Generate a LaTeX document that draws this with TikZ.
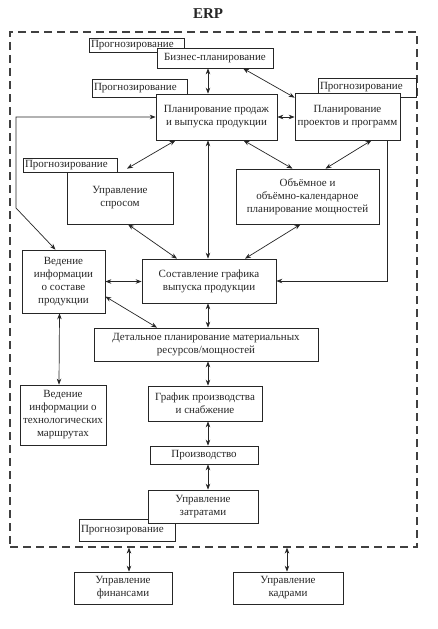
\documentclass[tikz,border=0pt]{standalone}
\usepackage{fontspec}
\setmainfont{Liberation Serif}
\usetikzlibrary{arrows.meta}
\begin{document}
\begin{tikzpicture}[x=1pt,y=-1pt,
  txt/.style={font=\fontsize{11}{13}\selectfont, text=black!85},
  box/.style={txt, draw=black!85, fill=white, align=center, inner sep=1pt, line width=0.7pt},
  pbox/.style={txt, draw=black!85, fill=white, align=left, inner xsep=2pt, inner ysep=0pt, text width=#1, line width=0.7pt},
  pbox/.default=91pt,
  dbl/.style={{Stealth[length=6pt,width=4.5pt]}-{Stealth[length=6pt,width=4.5pt]}, line width=0.7pt, draw=black!85},
  one/.style={-{Stealth[length=6pt,width=4.5pt]}, line width=0.7pt, draw=black!85},
  frame/.style={draw=black!75, dash pattern=on 8pt off 5pt, line width=1.2pt, inner sep=0pt}]
\useasboundingbox (0,0) rectangle (438,629);
\fill[white] (0,0) rectangle (438,629);

\node[font=\fontsize{15}{18}\selectfont\bfseries, text=black!85] (title) at (208,14) {ERP};
\node[frame, minimum width=407pt, minimum height=515pt] (erp) at (213.5,289.5) {};
\coordinate (cx) at (208,0);

% forecasting tabs (drawn first)
\node[pbox, minimum height=14pt] (p1) at (136.5,45) {Прогнозирование};
\node[pbox, minimum height=18pt] (p2) at (139.5,88) {Прогнозирование};
\node[pbox=94pt, minimum height=19pt] (p3) at (367,87.5) {Прогнозирование};
\node[pbox=90pt, minimum height=14pt] (p4) at (70,165) {Прогнозирование};
\node[pbox=92pt, minimum height=22pt] (p5) at (127,530) {Прогнозирование};

% main boxes
\node[box, minimum width=116pt, minimum height=20pt] (biz) at (215,58) {Бизнес-планирование};
\node[box, minimum width=121pt, minimum height=46pt] (sales) at (216.5,117) {Планирование продаж\\и выпуска продукции};
\node[box, minimum width=105pt, minimum height=47pt] (proj) at (347.5,116.5) {Планирование\\проектов и программ};
\node[box, minimum width=106pt, minimum height=52pt] (dem) at (120,198) {Управление\\спросом};
\node[box, minimum width=143pt, minimum height=55pt] (vol) at (307.5,196.5) {Объёмное и\\объёмно-календарное\\планирование мощностей};
\node[box, minimum width=83pt, minimum height=63pt] (bom) at (63.5,281.5) {Ведение\\информации\\о составе\\продукции};
\node[box, minimum width=134pt, minimum height=44pt] (sched) at (209,281) {Составление графика\\выпуска продукции};
\node[box, minimum width=224pt, minimum height=33pt] (mrp) at (206,344.5) {Детальное планирование материальных\\ресурсов/мощностей};
\node[box, minimum width=86pt, minimum height=60pt] (route) at (63,415) {Ведение\\информации о\\технологических\\маршрутах};
\node[box, minimum width=114pt, minimum height=35pt] (ps) at (205,403.5) {График производства\\и снабжение};
\node[box, minimum width=108pt, minimum height=18pt] (prod) at (204,455) {Производство};
\node[box, minimum width=110pt, minimum height=33pt] (cost) at (203,506.5) {Управление\\затратами};
\node[box, minimum width=98pt, minimum height=32pt] (fin) at (123,588) {Управление\\финансами};
\node[box, minimum width=110pt, minimum height=32pt] (hr) at (288,588) {Управление\\кадрами};

% connectors
\draw[dbl] (biz.south -| cx) -- (sales.north -| cx);
\draw[dbl] ([xshift=28pt]biz.south) -- ([yshift=-5pt]proj.north west);
\draw[dbl] (sales.east) -- (sales.east -| proj.west);
\coordinate (lb) at (16,208);
\coordinate (lt) at (16,117);
\draw[dbl] ([xshift=-8pt]bom.north) -- (lb) -- (lt) -- (sales.west);
\draw[dbl] ([xshift=-41pt]sales.south) -- ([xshift=7pt,yshift=3pt]dem.north);
\draw[dbl] (sales.south -| cx) -- (sched.north -| cx);
\draw[dbl] ([xshift=27pt]sales.south) -- ([xshift=-15pt]vol.north);
\draw[dbl] ([xshift=24pt]proj.south) -- ([xshift=18pt]vol.north);
\draw[one] ([xshift=40pt]proj.south) |- (sched.east);
\draw[dbl] ([xshift=8pt]dem.south) -- ([xshift=-32pt]sched.north);
\draw[dbl] ([xshift=-7pt]vol.south) -- ([xshift=36pt]sched.north);
\draw[dbl] (bom.east) -- (bom.east -| sched.west);
\draw[dbl] ([yshift=-15pt]bom.east) -- ([xshift=-49pt]mrp.north);
\draw[dbl] (sched.south -| cx) -- (mrp.north -| cx);
\draw[dbl] ([xshift=-4pt]bom.south) -- ([xshift=-4pt]route.north);
\draw[dbl] (mrp.south -| cx) -- (ps.north -| cx);
\draw[dbl] (ps.south -| cx) -- (prod.north -| cx);
\draw[dbl] (prod.south -| cx) -- (cost.north -| cx);
\draw[dbl] ([xshift=6pt]fin.north |- erp.south) -- ([xshift=6pt]fin.north);
\draw[dbl] ([xshift=-1pt]hr.north |- erp.south) -- ([xshift=-1pt]hr.north);
\end{tikzpicture}
\end{document}
